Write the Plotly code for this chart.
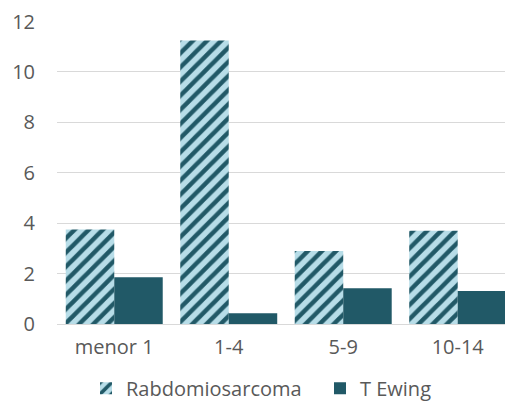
import plotly.graph_objects as go

categories = ["menor 1", "1-4", "5-9", "10-14"]
rabdo = [3.75, 11.25, 2.9, 3.7]
ewing = [1.85, 0.43, 1.42, 1.31]
y_ticks = [0, 2, 4, 6, 8, 10, 12]

dark = "#215967"
light = "#b7dde8"
font = "Open Sans"
fs = 20
W, H = 505, 401

fig = go.Figure()
fig.add_trace(go.Bar(
    x=categories, y=rabdo, name="Rabdomiosarcoma", legend="legend",
    marker=dict(color=light, line=dict(width=0),
                pattern=dict(shape="/", fgcolor=dark, bgcolor=light, fgopacity=1,
                             size=10, solidity=0.45, fillmode="overlay")),
))
fig.add_trace(go.Bar(
    x=categories, y=ewing, name="T Ewing", legend="legend2",
    marker=dict(color=dark, line=dict(width=0)),
))

leg_common = dict(orientation="h", xanchor="left", xref="container",
                  y=0.032, yanchor="middle", yref="container",
                  font=dict(size=fs, color="#595959"), itemwidth=30,
                  bgcolor="rgba(0,0,0,0)")

fig.update_layout(
    width=W, height=H,
    margin=dict(l=57, r=0, t=21, b=77),
    paper_bgcolor="white", plot_bgcolor="white",
    barmode="group", bargap=0.153, bargroupgap=0,
    font=dict(family=font, size=fs, color="#595959"),
    showlegend=True,
    legend=dict(x=86 / W, **leg_common),
    legend2=dict(x=320 / W, **leg_common),
    xaxis=dict(range=[-0.5, 3.413], showgrid=False, ticks="", showline=False,
               automargin=False, ticklabelstandoff=9,
               tickfont=dict(size=fs, color="#595959")),
    yaxis=dict(range=[0, 12.02], tickvals=y_ticks, showgrid=True, gridcolor="#d9d9d9",
               gridwidth=1, zeroline=True, zerolinecolor="#d9d9d9", zerolinewidth=1,
               ticks="", showline=False, ticklabelstandoff=21, automargin=False,
               tickfont=dict(size=fs, color="#595959")),
)

fig.write_html("out.html")
